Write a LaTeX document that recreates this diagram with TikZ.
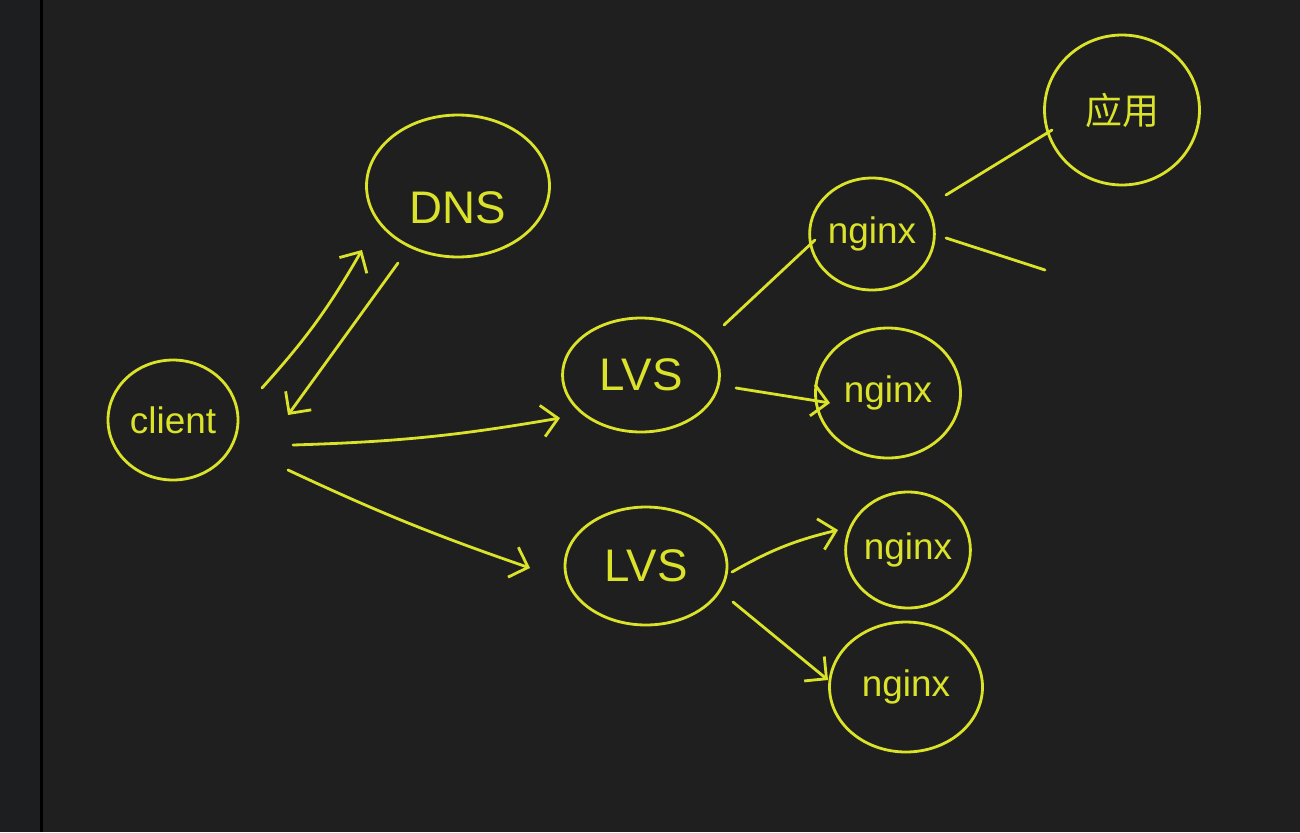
\documentclass[tikz,border=0pt]{standalone}
\usepackage{fontspec}
\setmainfont{Liberation Sans}
\newfontfamily\cjk{Noto Sans CJK SC}
\usetikzlibrary{arrows.meta,positioning,calc,shapes.geometric}
\definecolor{pen}{RGB}{218,226,42}
\definecolor{board}{RGB}{31,31,31}
\definecolor{margin}{RGB}{29,30,32}

\begin{document}
\begin{tikzpicture}[
        x=0.02cm, y=-0.02cm,
        blob/.style={ellipse, draw=pen, line width=1.6pt, inner sep=0pt,
            text=pen},
        link/.style={pen, line width=1.6pt, line cap=round},
        arr/.style={link,
            -{Straight Barb[length=9pt,width=18pt,line width=1.6pt]}},
        small/.style={font=\fontsize{21}{21}\selectfont},
        big/.style={font=\fontsize{26}{26}\selectfont},
    ]
    % board
    \fill[board] (0,0) rectangle (1300,832);
    \fill[margin] (0,0) rectangle (40,832);
    \fill[black] (40,0) rectangle (43,832);
    \useasboundingbox (0,0) rectangle (1300,832);

    % nodes
    \node[blob, small, minimum width=2.6cm, minimum height=2.4cm]
        at (173,420) (client) {client};
    \node[blob, big, minimum width=3.66cm, minimum height=2.84cm]
        at (458,186) (dns) {\raisebox{-0.75cm}[0pt][0pt]{DNS}};
    \node[blob, big, minimum width=3.14cm, minimum height=2.28cm]
        at (641,375) (lvsA) {LVS};
    \node[blob, big, minimum width=3.24cm, minimum height=2.36cm]
        at (646,566) (lvsB) {LVS};
    \node[blob, small, minimum width=2.4cm, minimum height=2.24cm]
        at (872,234) (ngA) {nginx};
    \node[blob, small, minimum width=2.9cm, minimum height=2.6cm]
        at (888,393) (ngB) {nginx};
    \node[blob, small, minimum width=2.34cm, minimum height=2.32cm]
        at (908,550) (ngC) {nginx};
    \node[blob, small, minimum width=3.06cm, minimum height=2.6cm]
        at (906,687) (ngD) {nginx};
    \node[blob, small, minimum width=3.1cm, minimum height=3.0cm]
        at (1122,110) (app) {\cjk 应用};
    \coordinate (loose) at (1045,270);

    % client <-> DNS
    \draw[arr] ([shift={(89,-32)}]client.center) to[bend right=6]
               ([shift={(-96,64)}]dns.center);
    \draw[arr] ([shift={(-60,77)}]dns.center) --
               ([shift={(115,-5)}]client.center);

    % client -> LVS
    \draw[arr] ([shift={(120,25)}]client.center) to[bend right=4]
               ([shift={(-81,43)}]lvsA.center);
    \draw[arr] ([shift={(115,50)}]client.center) to[bend right=3]
               ([shift={(-116,2)}]lvsB.center);

    % LVS -> nginx
    \draw[link] ([shift={(83,-50)}]lvsA.center) --
                ([shift={(-57,6)}]ngA.center);
    \draw[arr] ([shift={(95,13)}]lvsA.center) --
               ([shift={(-58,10)}]ngB.center);
    \draw[arr] ([shift={(86,6)}]lvsB.center) to[bend left=8]
               ([shift={(-70,-20)}]ngC.center);
    \draw[arr] ([shift={(87,36)}]lvsB.center) --
               ([shift={(-78,-7)}]ngD.center);

    % nginx -> app
    \draw[link] ([shift={(74,-39)}]ngA.center) --
                ([shift={(-70,20)}]app.center);
    \draw[link] ([shift={(74,4)}]ngA.center) -- (loose);
\end{tikzpicture}
\end{document}
